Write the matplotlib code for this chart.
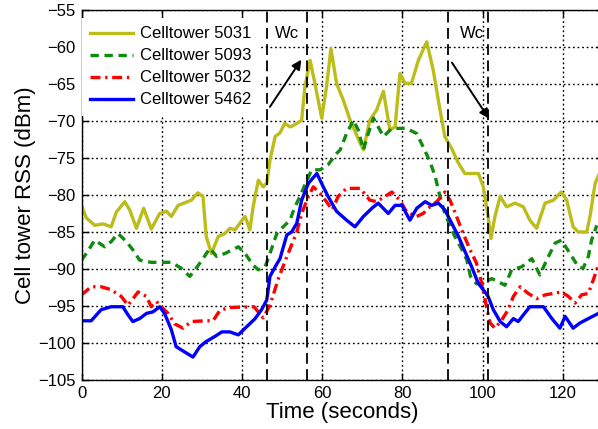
import matplotlib
matplotlib.use('Agg')
import matplotlib.pyplot as plt

plt.rcParams['font.family'] = ['Liberation Sans', 'DejaVu Sans']

# Celltower 5031
t_5031 = [0, 1.2, 3.3, 5.4, 7.4, 8.7, 10.8, 12.0, 13.7, 15.5, 17.4, 19.5, 21.2, 22.4,
          24.1, 27.4, 29.0, 30.3, 31.1, 32.4, 34.1, 35.8, 37.0, 38.3, 39.5, 40.8, 42.0,
          42.8, 44.1, 45.3, 46.2, 47.0, 48.3, 49.5, 50.7, 52.0, 53.2, 54.9, 55.7, 57.0,
          58.2, 59.9, 61.1, 62.2, 63.6, 65.3, 67.0, 69.5, 70.3, 71.9, 73.6, 75.3, 76.9,
          78.2, 79.4, 80.7, 82.3, 84.0, 86.1, 87.7, 89.4, 90.6, 92.3, 94.0, 95.6, 99.0,
          100.2, 101.4, 102.1, 103.1, 104.4, 106.0, 108.1, 110.2, 111.8, 113.5, 115.6,
          117.7, 119.6, 121.0, 122.6, 123.9, 126.0, 126.8, 128.1, 129.0]
rss_5031 = [-81.4, -83.1, -84.1, -83.9, -84.3, -82.3, -80.9, -82.0, -84.5, -81.8, -84.6,
            -82.5, -82.2, -82.9, -81.4, -80.7, -79.7, -80.2, -85.6, -87.9, -85.6, -85.2,
            -84.5, -84.7, -83.8, -82.9, -84.7, -81.6, -78.0, -78.9, -78.4, -75.3, -72.1,
            -71.6, -70.3, -70.8, -70.5, -69.9, -65.4, -61.8, -64.9, -69.6, -65.4, -60.2,
            -64.9, -67.2, -69.9, -73.0, -73.9, -69.9, -68.5, -66.0, -71.2, -70.8, -63.6,
            -64.9, -64.9, -61.8, -59.3, -63.1, -68.5, -72.1, -73.7, -75.7, -77.1, -77.1,
            -78.9, -82.9, -85.9, -82.9, -80.2, -81.6, -81.1, -81.6, -83.4, -84.5, -81.1,
            -80.7, -79.6, -80.7, -84.3, -85.0, -85.0, -82.9, -78.4, -77.3]

# Celltower 5093
t_5093 = [0, 1.2, 3.3, 5.8, 7.4, 9.1, 11.2, 12.8, 14.5, 17.4, 22.4, 24.9, 27.0, 28.6,
          30.3, 32.0, 33.7, 35.8, 39.1, 40.8, 42.8, 44.1, 45.8, 47.0, 48.7, 50.3, 52.0,
          53.2, 54.5, 56.2, 57.4, 59.5, 61.5, 63.6, 64.5, 66.1, 67.8, 69.0, 70.3, 71.5,
          72.8, 74.0, 75.3, 77.4, 81.1, 83.6, 85.2, 86.9, 88.2, 89.4, 90.6, 93.0, 95.0,
          96.1, 97.0, 98.5, 100.5, 102.3, 103.9, 105.6, 107.3, 109.8, 112.3, 114.3,
          116.0, 118.1, 119.7, 121.8, 123.9, 125.1, 126.4, 127.2, 128.5]
rss_5093 = [-88.8, -87.9, -86.1, -87.0, -86.3, -85.2, -86.3, -87.4, -88.8, -89.1, -89.1,
            -89.9, -91.0, -89.9, -88.6, -87.2, -88.3, -87.9, -87.0, -87.9, -89.5, -90.1,
            -89.7, -87.9, -85.2, -84.3, -83.4, -81.6, -80.2, -78.0, -76.6, -76.6, -75.9,
            -74.4, -73.9, -71.7, -69.9, -71.2, -73.9, -71.7, -69.6, -70.8, -72.1, -71.0,
            -71.0, -71.7, -73.5, -75.5, -77.5, -80.2, -82.5, -85.5, -87.5, -88.8, -91.0,
            -92.0, -91.8, -91.3, -91.7, -92.2, -90.1, -89.7, -88.6, -90.8, -88.8, -86.5,
            -86.1, -87.9, -89.7, -89.9, -88.3, -86.1, -84.1]

# Celltower 5032
t_5032 = [0, 2.4, 4.9, 7.4, 9.9, 11.6, 14.1, 16.2, 17.4, 18.7, 19.9, 21.6, 23.2, 25.3,
          27.4, 31.0, 32.8, 34.5, 37.0, 43.0, 45.3, 47.0, 49.1, 51.6, 53.7, 54.9, 56.6,
          57.8, 59.5, 61.1, 62.5, 64.0, 66.1, 69.5, 71.9, 73.6, 75.7, 77.4, 79.4, 81.1,
          83.6, 85.2, 86.9, 88.6, 90.6, 91.9, 93.1, 94.8, 96.9, 98.5, 99.8, 101.0, 101.9,
          103.1, 104.8, 106.4, 107.7, 109.4, 111.4, 113.5, 115.6, 117.7, 119.7, 121.4,
          123.1, 124.7, 126.4, 127.6, 128.9]
rss_5032 = [-93.5, -92.4, -92.4, -92.8, -93.7, -94.9, -93.1, -93.7, -95.1, -94.4, -95.1,
            -96.0, -97.4, -98.0, -97.1, -97.0, -97.0, -95.6, -95.2, -95.1, -96.6, -94.9,
            -91.3, -87.8, -85.0, -82.5, -80.2, -78.9, -79.8, -80.9, -82.0, -80.2, -79.1,
            -79.1, -80.7, -80.9, -80.2, -79.6, -80.7, -82.3, -82.9, -82.5, -81.6, -80.9,
            -79.6, -80.7, -82.3, -84.7, -87.4, -89.2, -91.9, -95.1, -97.3, -98.0, -96.9,
            -95.5, -93.7, -92.4, -93.3, -94.0, -93.5, -93.3, -93.1, -93.7, -94.6, -93.5,
            -93.3, -91.5, -89.5]

# Celltower 5462
t_5462 = [0, 2.4, 4.9, 7.4, 10.3, 11.6, 12.8, 14.5, 16.2, 17.8, 19.5, 20.7, 22.4, 23.6,
          25.7, 27.8, 29.5, 31.1, 33.3, 35.0, 37.0, 39.1, 40.8, 43.3, 44.9, 46.2, 47.0,
          48.3, 49.5, 51.2, 52.4, 53.7, 54.9, 56.6, 58.7, 60.3, 61.5, 63.6, 66.1, 68.2,
          70.3, 72.4, 74.0, 76.5, 78.2, 79.9, 81.9, 83.6, 85.7, 87.3, 89.0, 90.6, 92.3,
          94.0, 95.6, 97.3, 98.9, 100.6, 101.4, 102.7, 104.4, 106.0, 107.7, 108.9, 110.2,
          111.8, 115.2, 117.3, 119.3, 120.6, 122.6, 124.3, 126.4, 128.9]
rss_5462 = [-97.0, -97.0, -95.5, -95.1, -95.1, -96.2, -97.1, -96.7, -96.0, -95.8, -95.1,
            -96.0, -98.2, -100.5, -101.2, -101.9, -100.5, -99.8, -99.1, -98.5, -98.5,
            -98.9, -98.0, -96.7, -95.5, -94.2, -91.0, -89.7, -88.6, -85.4, -85.0, -83.8,
            -80.7, -78.4, -77.1, -78.9, -80.2, -82.2, -83.4, -84.3, -82.9, -81.8, -81.1,
            -82.5, -81.4, -81.4, -83.4, -81.8, -80.9, -81.4, -81.1, -82.0, -83.8, -85.6,
            -87.6, -89.7, -91.9, -93.1, -93.7, -95.5, -97.1, -97.8, -96.7, -97.1, -96.2,
            -95.1, -95.1, -96.7, -98.0, -96.4, -98.0, -97.3, -96.7, -96.0]

# window boundaries (seconds)
windows = [46.2, 56.2, 91.4, 101.4]

fig = plt.figure(figsize=(5.98, 4.29), dpi=100)
ax = fig.add_axes([81.5 / 598, 49 / 429, 521.3 / 598, 370 / 429])

ax.plot(t_5031, rss_5031, color='#bcbc1a', lw=2.4, label='Celltower 5031')
ax.plot(t_5093, rss_5093, color='#108a10', lw=2.4, linestyle=(0, (2.5, 1.7)),
        label='Celltower 5093')
ax.plot(t_5032, rss_5032, color='#ff0000', lw=2.4, linestyle=(0, (3, 1.4, 0.7, 1.4)),
        label='Celltower 5032')
ax.plot(t_5462, rss_5462, color='#0000ff', lw=2.4, label='Celltower 5462')

for w in windows:
    ax.axvline(w, color='black', lw=1.3, linestyle=(0, (6, 3)), zorder=3)

ax.annotate('', xy=(55.2, -61.4), xytext=(46.6, -68.4),
            arrowprops=dict(arrowstyle='-|>', color='black', lw=1.4, mutation_scale=14))
ax.annotate('', xy=(102.0, -70.0), xytext=(92.0, -61.8),
            arrowprops=dict(arrowstyle='-|>', color='black', lw=1.4, mutation_scale=14))
ax.text(48.2, -58.2, 'Wc', fontsize=12, va='center', ha='left')
ax.text(94.4, -58.2, 'Wc', fontsize=12, va='center', ha='left')

ax.set_xlim(0, 130)
ax.set_ylim(-105, -55)
ax.set_xticks([0, 20, 40, 60, 80, 100, 120])
ax.set_yticks(range(-105, -54, 5))
ax.grid(True, color='black', linestyle=(0, (1.3, 2.0)), linewidth=1.0)
ax.set_axisbelow(True)
ax.tick_params(direction='in', top=True, right=True, labelsize=12, length=5,
               width=1.0, pad=4)
for s in ax.spines.values():
    s.set_color('black')
    s.set_linewidth(1.0)

ax.set_xlabel('Time (seconds)', fontsize=16, labelpad=1)
ax.set_ylabel('Cell tower RSS (dBm)', fontsize=16, labelpad=2)

leg = ax.legend(loc='upper left', bbox_to_anchor=(0.0, 0.978), borderaxespad=0,
                borderpad=0.5, labelspacing=0.42, handletextpad=0.4, handlelength=2.6,
                fontsize=12, frameon=True, fancybox=False, framealpha=1)
leg.get_frame().set_edgecolor('white')
leg.get_frame().set_linewidth(0)

fig.savefig('out.png', dpi=100)
